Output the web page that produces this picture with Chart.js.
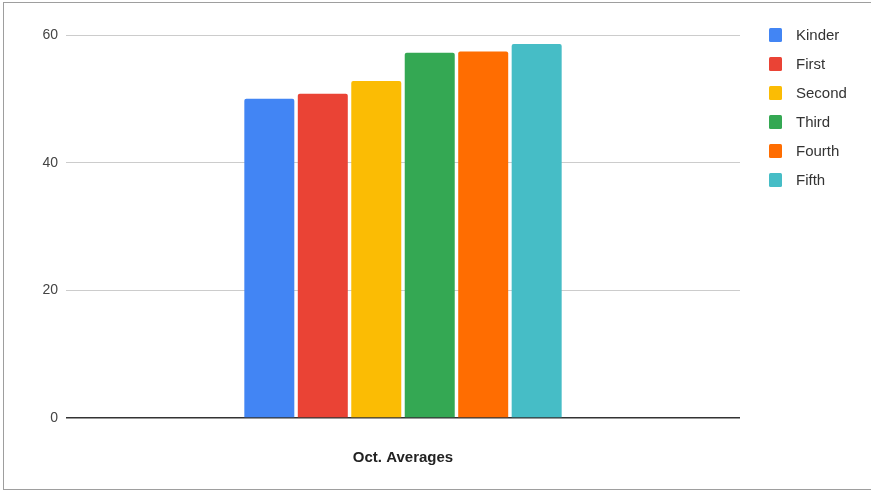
<!DOCTYPE html>
<html>
<head>
<meta charset="utf-8">
<script src="https://cdn.jsdelivr.net/npm/chart.js@4/dist/chart.umd.min.js"></script>
<style>
  html, body { margin: 0; padding: 0; background: #fff; }
  body { width: 871px; height: 493px; position: relative; overflow: hidden; }
  #frame { position: absolute; left: 3px; top: 2px; width: 880px; height: 488px; border: 1px solid #9e9e9e; box-sizing: border-box; }
  #wrap { position: absolute; left: 0; top: 0; width: 871px; height: 493px; }
</style>
</head>
<body>
<div id="frame"></div>
<div id="wrap"><canvas id="c" width="871" height="493"></canvas></div>
<script>
const categories = ['Oct. Averages'];
const seriesNames = ['Kinder', 'First', 'Second', 'Third', 'Fourth', 'Fifth'];
const seriesValues = [[50.0], [50.8], [52.8], [57.2], [57.4], [58.6]];
const seriesColors = ['#4285F4', '#EA4335', '#FBBC04', '#34A853', '#FF6D01', '#46BDC6'];
const yTicks = [0, 20, 40, 60];

const legendPlugin = {
  id: 'sideLegend',
  afterDraw(chart) {
    const ctx = chart.ctx;
    const area = chart.chartArea;
    ctx.save();
    ctx.font = '15px "Liberation Sans", Arial, sans-serif';
    ctx.textBaseline = 'middle';
    chart.data.datasets.forEach((ds, i) => {
      const y = area.top + i * 29;
      const x = area.right + 29;
      ctx.fillStyle = ds.backgroundColor;
      ctx.beginPath();
      ctx.roundRect(x, y - 7, 13, 14, 1.5);
      ctx.fill();
      ctx.fillStyle = '#333';
      ctx.fillText(ds.label, x + 27, y + 1);
    });
    ctx.restore();
  }
};

new Chart(document.getElementById('c'), {
  type: 'bar',
  data: {
    labels: categories,
    datasets: seriesNames.map((n, i) => ({
      label: n,
      data: seriesValues[i],
      backgroundColor: seriesColors[i],
      borderRadius: { topLeft: 2, topRight: 2, bottomLeft: 0, bottomRight: 0 },
      borderSkipped: 'bottom',
      barPercentage: 0.935,
      categoryPercentage: 0.476
    }))
  },
  options: {
    responsive: false,
    animation: false,
    devicePixelRatio: 1,
    layout: { padding: { top: 35, right: 131, left: 0, bottom: 0 } },
    plugins: { legend: { display: false }, tooltip: { enabled: false } },
    scales: {
      x: {
        grid: { display: false, drawTicks: false },
        border: { display: false },
        ticks: {
          color: '#222',
          padding: 31,
          font: { family: '"Liberation Sans", Arial, sans-serif', size: 15, weight: 'bold' }
        },
        afterFit(s) { s.height = 75; }
      },
      y: {
        min: 0, max: 60,
        afterBuildTicks(s) { s.ticks = yTicks.map(v => ({ value: v })); },
        grid: {
          color: ctx => ctx.tick && ctx.tick.value === 0 ? '#333' : '#ccc',
          lineWidth: ctx => ctx.tick && ctx.tick.value === 0 ? 1.5 : 1,
          drawTicks: false
        },
        border: { display: false },
        ticks: {
          color: '#444',
          padding: 8,
          font: { family: '"Liberation Sans", Arial, sans-serif', size: 14 }
        },
        afterFit(s) { s.width = 66; }
      }
    }
  },
  plugins: [legendPlugin]
});
</script>
</body>
</html>
